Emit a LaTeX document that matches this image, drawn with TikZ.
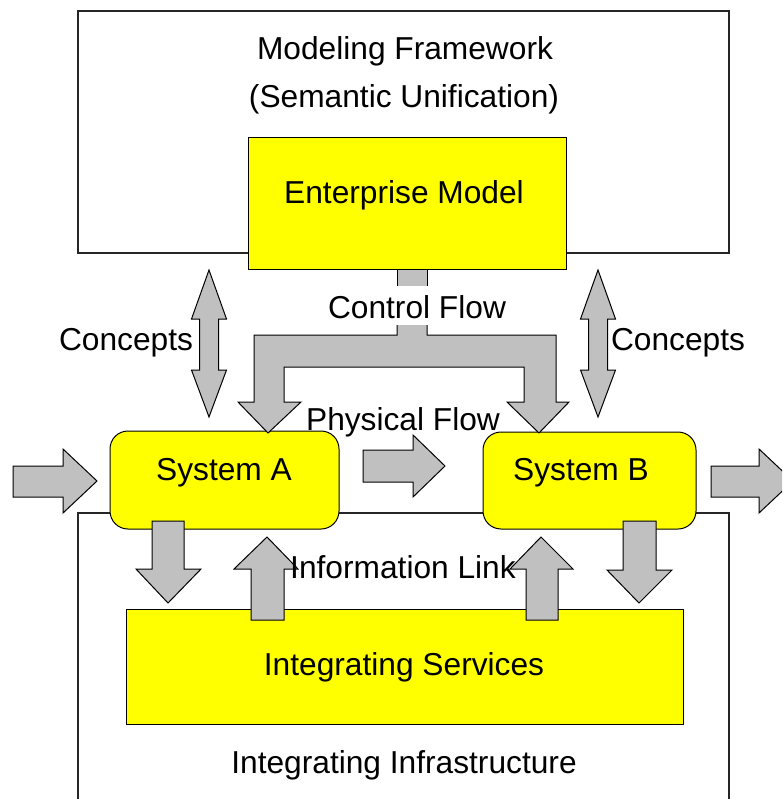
\documentclass[tikz,border=0pt]{standalone}
\usepackage{fontspec}
\setmainfont{Liberation Sans}
\definecolor{boxyellow}{HTML}{FFFF00}
\definecolor{arrowgray}{HTML}{C0C0C0}
\tikzset{
  frame/.style={draw=black!85, line width=1.6pt, anchor=north west, inner sep=0pt, outer sep=0pt},
  ybox/.style={draw=black, line width=1pt, fill=boxyellow, anchor=north west, inner sep=0pt, outer sep=0pt},
  blk/.style={draw=black, line width=1pt, fill=arrowgray, line join=miter},
  lbl/.style={font=\fontsize{31.7}{38}\selectfont, anchor=base, inner sep=0pt},
}
\begin{document}
\begin{tikzpicture}[x=1pt,y=-1pt]
\clip (0,0) rectangle (782,799);
\fill[white] (0,0) rectangle (782,799);

% outer frames
\node[frame, minimum width=651pt, minimum height=242pt] (framework) at (78,11) {};
\node[frame, minimum width=651pt, minimum height=320pt] (infra) at (78,513) {};

% yellow boxes
\node[ybox, minimum width=318pt, minimum height=131pt] (enterprise) at (248,138) {};
\node[ybox, minimum width=557pt, minimum height=115pt] (services) at (126,609) {};
\node[ybox, rounded corners=18pt, minimum width=229pt, minimum height=98pt] (sysA) at (110,431) {};
\node[ybox, rounded corners=18pt, minimum width=213pt, minimum height=97pt] (sysB) at (483,432) {};

% concept exchange (double arrows)
\path[blk] (209,270) -- (226.5,319) -- (218.5,319) -- (218.5,370) -- (226.5,370) -- (209,417)
  -- (191.5,370) -- (199.5,370) -- (199.5,319) -- (191.5,319) -- cycle;
\path[blk] (598,270) -- (615.5,319) -- (607.5,319) -- (607.5,370) -- (615.5,370) -- (598,417)
  -- (580.5,370) -- (588.5,370) -- (588.5,319) -- (580.5,319) -- cycle;

% control flow: stub under the enterprise model and the fork
\fill[arrowgray] (397,269) rectangle (427,286);
\draw[line width=1pt] (397,286) -- (397,269) -- (427,269) -- (427,286);
\path[blk] (427,325) -- (427,335) -- (556,335) -- (556,402) -- (569,402) -- (539,433) -- (507,402)
  -- (524,402) -- (524,367) -- (284,367) -- (284,402) -- (301,402) -- (268,433) -- (238,402)
  -- (254,402) -- (254,335) -- (397,335) -- (397,325);

% physical flow
\path[blk] (13,466) -- (63,466) -- (63,449) -- (97,481) -- (63,513) -- (63,497) -- (13,497) -- cycle;
\path[blk] (363,450) -- (413,450) -- (413,435) -- (445,466) -- (413,497) -- (413,482) -- (363,482) -- cycle;
\path[blk] (711,466) -- (759,466) -- (759,449) -- (793,481) -- (759,513) -- (759,497) -- (711,497) -- cycle;

% information links
\path[blk] (152,521) -- (184,521) -- (184,569) -- (201,569) -- (168,603) -- (136,569) -- (152,569) -- cycle;
\path[blk] (267,537) -- (298,569) -- (284,569) -- (284,620) -- (251,620) -- (251,569) -- (234,569) -- cycle;
\path[blk] (541,537) -- (573,569) -- (558,569) -- (558,620) -- (526,620) -- (526,569) -- (510,569) -- cycle;
\path[blk] (623,521) -- (656,521) -- (656,570) -- (672,570) -- (639,603) -- (607,570) -- (623,570) -- cycle;

% labels
\node[lbl] (tmf) at (405,60) {Modeling Framework};
\node[lbl] (tsu) at (404,108) {(Semantic Unification)};
\node[lbl] (tem) at (404,204) {Enterprise Model};
\node[lbl] (tcf) at (417,318) {Control Flow};
\node[lbl] (tc1) at (126,350) {Concepts};
\node[lbl] (tc2) at (678,350) {Concepts};
\node[lbl] (tpf) at (403,430) {Physical Flow};
\node[lbl] (tsa) at (224,480) {System A};
\node[lbl] (tsb) at (581,480) {System B};
\node[lbl] (til) at (403,578) {Information Link};
\node[lbl] (tis) at (404,675) {Integrating Services};
\node[lbl] (tii) at (404,773) {Integrating Infrastructure};
\end{tikzpicture}
\end{document}
